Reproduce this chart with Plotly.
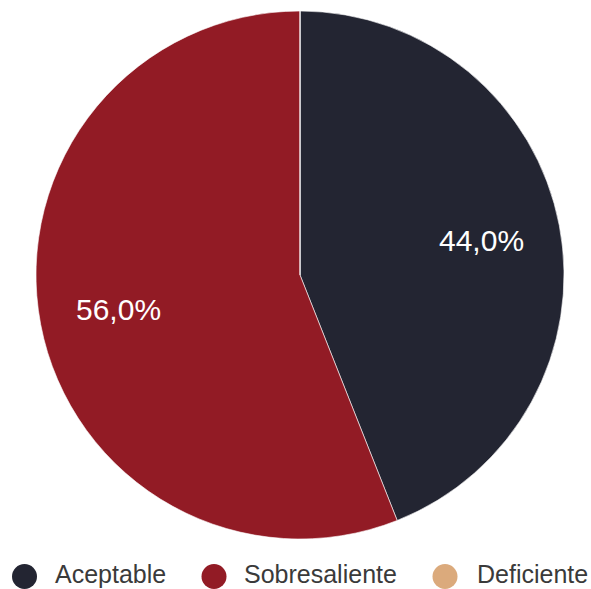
import math
import plotly.graph_objects as go

# Categories and counts
categories = ["Aceptable", "Sobresaliente", "Deficiente"]
counts = [11, 14, 0]
colors = ["#232532", "#921b25", "#dbaa7c"]

W, H = 591, 589
ML, MR, MT, MB = 36, 27, 10, 49
FONT = "Liberation Sans, Arial, sans-serif"

fig = go.Figure(
    go.Pie(
        labels=categories,
        values=counts,
        marker=dict(colors=colors, line=dict(color="#ffffff", width=0.6)),
        sort=False,
        direction="clockwise",
        rotation=0,
        textinfo="none",
        showlegend=False,
        hoverinfo="label+percent",
    )
)

plot_w = W - ML - MR
plot_h = H - MT - MB
annotations = []
shapes = []

# Percentage labels placed along each slice's bisector
total = sum(counts)
label_r = 0.70 * 0.5  # fraction of the pie diameter
cum = 0.0
for c in counts:
    if c > 0:
        frac = c / total
        mid = (cum + frac / 2) * 2 * math.pi
        px = ML + plot_w / 2 + label_r * min(plot_w, plot_h) * math.sin(mid)
        py = MT + plot_h / 2 - label_r * min(plot_w, plot_h) * math.cos(mid)
        annotations.append(dict(
            text=f"{frac * 100:.1f}%".replace(".", ","),
            xref="paper", yref="paper",
            x=(px - ML) / plot_w, y=(H - MB - py) / plot_h,
            xanchor="center", yanchor="middle", showarrow=False,
            font=dict(family=FONT, size=30, color="#ffffff"),
        ))
    cum += c / total

# Legend row with circular markers
marker_y_px = 576.5
text_y_px = 574.0
marker_x_px = [24.5, 214, 445]
text_x_px = [53.5, 242.5, 475.5]
for name, col, mx, tx in zip(categories, colors, marker_x_px, text_x_px):
    shapes.append(dict(
        type="circle", xref="paper", yref="paper",
        xsizemode="pixel", ysizemode="pixel",
        xanchor=(mx - ML) / plot_w, yanchor=(H - MB - marker_y_px) / plot_h,
        x0=-12.5, x1=12.5, y0=-12.5, y1=12.5,
        fillcolor=col, line=dict(width=0),
    ))
    annotations.append(dict(
        text=name, xref="paper", yref="paper",
        x=(tx - ML) / plot_w, y=(H - MB - text_y_px) / plot_h,
        xanchor="left", yanchor="middle",
        showarrow=False, borderpad=0,
        font=dict(family=FONT, size=25, color="#3a3a3a"),
    ))

fig.update_layout(
    width=W, height=H,
    margin=dict(l=ML, r=MR, t=MT, b=MB, autoexpand=False),
    paper_bgcolor="#ffffff",
    plot_bgcolor="#ffffff",
    separators=",.",
    shapes=shapes,
    annotations=annotations,
)

fig.write_html("out.html")
